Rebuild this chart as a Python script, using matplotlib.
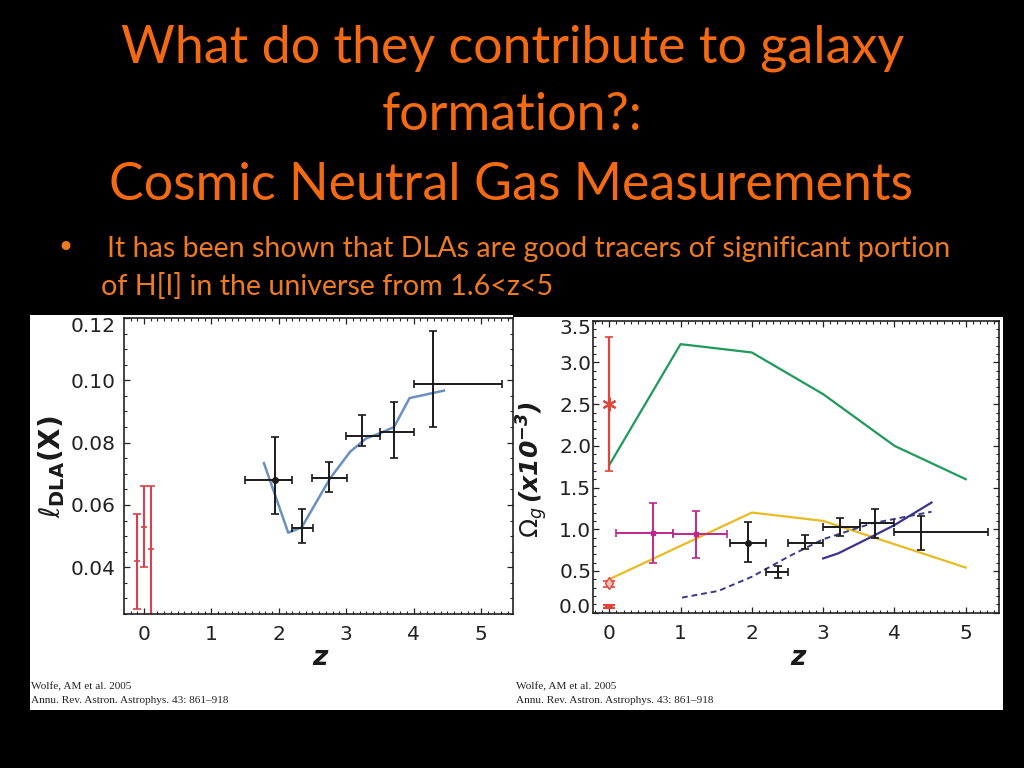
import matplotlib
matplotlib.use('Agg')
import matplotlib.pyplot as plt
import matplotlib.patches as mpatches
from matplotlib.ticker import MultipleLocator
from matplotlib.transforms import ScaledTranslation

# ---------------- data ----------------
title_lines = ["What do they contribute to galaxy", "formation?:", "Cosmic Neutral Gas Measurements"]
bullet_lines = ["It has been shown that DLAs are good tracers of significant portion",
                "of H[I] in the universe from 1.6<z<5"]
citation = ["Wolfe, AM et al. 2005", "Annu. Rev. Astron. Astrophys. 43: 861\u2013918"]

# left panel: l_DLA(X)
z_local = [-0.1, 0.0, 0.1]
l_local = [0.042, 0.053, 0.046]
l_local_lo = [0.0265, 0.040, 0.020]
l_local_hi = [0.057, 0.066, 0.066]

z_dla = [1.94, 2.35, 2.75, 3.24, 3.71, 4.29]
l_dla = [0.0680, 0.0527, 0.0686, 0.0822, 0.0835, 0.0988]
z_dla_lo = [1.50, 2.19, 2.50, 2.99, 3.50, 4.01]
z_dla_hi = [2.20, 2.51, 3.01, 3.50, 4.01, 5.31]
l_dla_lo = [0.0571, 0.0477, 0.0640, 0.0790, 0.0752, 0.0849]
l_dla_hi = [0.0817, 0.0586, 0.0737, 0.0889, 0.0930, 0.1157]

z_model_l = [1.78, 2.14, 2.34, 2.76, 3.06, 3.30, 3.50, 3.71, 3.94, 4.45]
l_model = [0.0734, 0.0511, 0.0528, 0.0685, 0.0771, 0.0814, 0.0830, 0.0850, 0.0943, 0.0967]

# right panel: Omega_g (x1e-3)
z_green = [0, 1, 2, 3, 4, 5]
om_green = [1.77, 3.22, 3.12, 2.62, 2.00, 1.60]
z_yellow = [0, 1, 2, 3, 4, 5]
om_yellow = [0.40, 0.80, 1.20, 1.10, 0.82, 0.54]
z_dash = [1.02, 1.53, 2.00, 2.51, 3.00, 3.68, 4.52]
om_dash = [0.18, 0.26, 0.43, 0.67, 0.88, 1.07, 1.21]
z_navy = [3.00, 3.21, 3.68, 4.00, 4.52]
om_navy = [0.65, 0.71, 0.91, 1.05, 1.32]

z_mag = [0.61, 1.22]
om_mag = [0.96, 0.94]
z_mag_lo = [0.10, 0.90]
z_mag_hi = [0.89, 1.65]
om_mag_lo = [0.60, 0.66]
om_mag_hi = [1.32, 1.22]

z_blk = [1.94, 2.36, 2.74, 3.24, 3.73, 4.37]
om_blk = [0.84, 0.49, 0.84, 1.03, 1.07, 0.97]
z_blk_lo = [1.70, 2.20, 2.50, 3.00, 3.51, 4.00]
z_blk_hi = [2.20, 2.51, 3.00, 3.51, 4.00, 5.31]
om_blk_lo = [0.61, 0.42, 0.76, 0.92, 0.90, 0.75]
om_blk_hi = [1.09, 0.56, 0.93, 1.14, 1.24, 1.16]

om_star = 2.50
om_star_lo, om_star_hi = 1.70, 3.31
om_diam = 0.35
om_diam_lo, om_diam_hi = 0.31, 0.38
om_low = 0.07
om_low_lo, om_low_hi = 0.05, 0.09

# ---------------- figure ----------------
W, H = 1024, 768
fig = plt.figure(figsize=(10.24, 7.68), dpi=100, facecolor='black')


def fx(x):
    return x / W


def fy(y):
    return 1 - y / H


def panel(x0, y0, x1, y1):
    r = mpatches.Rectangle((fx(x0), fy(y1)), (x1 - x0) / W, (y1 - y0) / H,
                           transform=fig.transFigure, facecolor='white',
                           edgecolor='none', zorder=-5)
    fig.add_artist(r)


panel(30, 315, 513, 710)
panel(513, 317, 1003, 710)

renderer = fig.canvas.get_renderer()


def fit_text(x, y, s, target_w, **kw):
    t = fig.text(x, y, s, **kw)
    w = t.get_window_extent(renderer=renderer).width
    t.set_fontsize(t.get_fontsize() * target_w / w)
    return t


TITLE_C = '#f46a12'
BODY_C = '#ee7b22'
tfont = 'Lato'

t1 = fig.text(fx(513), fy(63), title_lines[0], color=TITLE_C, family=tfont, fontsize=34,
              ha='center', va='baseline')
t3 = fig.text(fx(511), fy(200), title_lines[2], color=TITLE_C, family=tfont, fontsize=34,
              ha='center', va='baseline')
w1 = t1.get_window_extent(renderer=renderer).width
w3 = t3.get_window_extent(renderer=renderer).width
scale = 0.5 * (784 / w1 + 807 / w3)
tsize = 34 * scale
t1.set_fontsize(tsize)
t3.set_fontsize(tsize)
fig.text(fx(512), fy(130), title_lines[1], color=TITLE_C, family=tfont, fontsize=tsize,
         ha='center', va='baseline')

# bullet
fig.text(fx(65), fy(249), '\u2022', color=BODY_C, family='DejaVu Sans', fontsize=22,
         ha='center', va='center')
b1 = fit_text(fx(107), fy(257), bullet_lines[0], 844, color=BODY_C, family=tfont,
              fontsize=20, ha='left', va='baseline')
fig.text(fx(101), fy(295), bullet_lines[1], color=BODY_C, family=tfont,
         fontsize=b1.get_fontsize(), ha='left', va='baseline')

# citations
for cx in (31, 516):
    c2 = fit_text(fx(cx), fy(703), citation[1], 199, color='#222222',
                  family='Liberation Serif', fontsize=7, ha='left', va='baseline')
    fig.text(fx(cx), fy(689), citation[0], color='#222222', family='Liberation Serif',
             fontsize=c2.get_fontsize(), ha='left', va='baseline')

TICK_FS = 14.5


def style_axes(ax, ymajor, yminor):
    ax.set_facecolor('none')
    for s in ax.spines.values():
        s.set_linewidth(1.2)
        s.set_color('#222222')
    ax.xaxis.set_major_locator(MultipleLocator(1))
    ax.xaxis.set_minor_locator(MultipleLocator(0.1))
    ax.yaxis.set_major_locator(MultipleLocator(ymajor))
    ax.yaxis.set_minor_locator(MultipleLocator(yminor))
    ax.tick_params(which='both', direction='in', top=True, right=True, colors='#222222')
    ax.tick_params(which='major', length=4.5, width=0.9)
    ax.tick_params(which='minor', length=2.3, width=0.8)


# ---------- left axes ----------
axL = fig.add_axes([fx(124.3), fy(614), (513 - 124.3) / W, (614 - 318) / H])
axL.set_xlim(-0.292, 5.475)
axL.set_ylim(0.025, 0.120)
style_axes(axL, 0.02, 0.005)
axL.set_yticks([0.04, 0.06, 0.08, 0.10, 0.12])
axL.set_yticklabels(['0.04', '0.06', '0.08', '0.10', '0.12'], family='DejaVu Sans',
                    fontsize=TICK_FS, color='#222222')
axL.set_xticks([0, 1, 2, 3, 4, 5])
axL.set_xticklabels(['0', '1', '2', '3', '4', '5'], family='DejaVu Sans',
                    fontsize=TICK_FS, color='#222222')
axL.tick_params(axis='y', pad=6)
axL.tick_params(axis='x', pad=8)

red_l = '#d9404e'
for zi, li, lo, hi in zip(z_local, l_local, l_local_lo, l_local_hi):
    axL.errorbar([zi], [li], yerr=[[li - lo], [hi - li]], fmt='_', color=red_l,
                 ms=5, mew=1.2, elinewidth=1.5, capsize=3, capthick=1.2)

axL.plot(z_model_l, l_model, color='#6b8fc0', lw=1.8, zorder=3)
for i, (zi, li) in enumerate(zip(z_dla, l_dla)):
    axL.errorbar([zi], [li],
                 xerr=[[zi - z_dla_lo[i]], [z_dla_hi[i] - zi]],
                 yerr=[[li - l_dla_lo[i]], [l_dla_hi[i] - li]],
                 fmt='o' if i == 0 else 'none', ms=4, color='#1a1a1a',
                 elinewidth=1.4, capsize=3, capthick=1.2, zorder=4)

# ---------- right axes ----------
axR = fig.add_axes([fx(593.3), fy(612.6), (999 - 593.3) / W, (612.6 - 320.8) / H])
axR.set_xlim(-0.224, 5.466)
axR.set_ylim(0.0, 3.5)
style_axes(axR, 0.5, 0.1)
axR.set_yticks([0.0, 0.5, 1.0, 1.5, 2.0, 2.5, 3.0, 3.5])
axR.set_yticklabels(['0.0', '0.5', '1.0', '1.5', '2.0', '2.5', '3.0', '3.5'],
                    family='DejaVu Sans', fontsize=TICK_FS, color='#222222')
axR.set_xticks([0, 1, 2, 3, 4, 5])
axR.set_xticklabels(['0', '1', '2', '3', '4', '5'], family='DejaVu Sans',
                    fontsize=TICK_FS, color='#222222')
axR.tick_params(axis='y', pad=1.5)
axR.tick_params(axis='x', pad=8)

axR.plot(z_green, om_green, color='#1e9a5c', lw=1.6, zorder=3)
axR.plot(z_yellow, om_yellow, color='#e8bb24', lw=1.6, zorder=3)
axR.plot(z_dash, om_dash, color='#3a3a8a', lw=1.4, ls=(0, (3, 2)), zorder=3)
axR.plot(z_navy, om_navy, color='#3a3490', lw=1.6, zorder=3)

red_r = '#e0453a'
axR.errorbar([0], [om_star], yerr=[[om_star - om_star_lo], [om_star_hi - om_star]],
             fmt='none', color=red_r, elinewidth=1.6,
             capsize=3, capthick=1.2, zorder=5)
axR.plot([0], [om_star], marker=(6, 2, 0), ms=10, mew=1.5, color=red_r, ls='none',
         zorder=6)
axR.errorbar([0], [om_diam], yerr=[[om_diam - om_diam_lo], [om_diam_hi - om_diam]],
             fmt='d', ms=6, mfc='#f6c0b8', mec=red_r, color=red_r, elinewidth=1.3,
             capsize=4, capthick=1.2, zorder=5)
axR.errorbar([0], [om_low], yerr=[[om_low - om_low_lo], [om_low_hi - om_low]],
             fmt='_', ms=6, mew=1.5, color=red_r, elinewidth=1.3,
             capsize=4, capthick=1.2, zorder=5)

mag = '#c0268c'
for i, (zi, oi) in enumerate(zip(z_mag, om_mag)):
    axR.errorbar([zi], [oi], xerr=[[zi - z_mag_lo[i]], [z_mag_hi[i] - zi]],
                 yerr=[[oi - om_mag_lo[i]], [om_mag_hi[i] - oi]],
                 fmt='s', ms=3.5, color=mag, elinewidth=1.4, capsize=3, capthick=1.2,
                 zorder=4)

for i, (zi, oi) in enumerate(zip(z_blk, om_blk)):
    axR.errorbar([zi], [oi], xerr=[[zi - z_blk_lo[i]], [z_blk_hi[i] - zi]],
                 yerr=[[oi - om_blk_lo[i]], [om_blk_hi[i] - oi]],
                 fmt='o' if i == 0 else 'none', ms=4, color='#1a1a1a',
                 elinewidth=1.4, capsize=3, capthick=1.2, zorder=4)


# shift end labels inward as in the reference
def shift_label(ax, idx, dy_px):
    tick = ax.yaxis.get_major_ticks()[idx]
    lab = tick.label1
    lab.set_transform(lab.get_transform() + ScaledTranslation(0, dy_px / 100, fig.dpi_scale_trans))


shift_label(axL, 4, -7)
shift_label(axR, 7, -6)
shift_label(axR, 0, 7)

# axis labels
fig.text(fx(320), fy(658), 'z', family='DejaVu Sans', fontsize=19, fontweight='bold',
         fontstyle='italic', color='#1a1a1a', ha='center', va='center')
fig.text(fx(798), fy(658), 'z', family='DejaVu Sans', fontsize=19, fontweight='bold',
         fontstyle='italic', color='#1a1a1a', ha='center', va='center')
fig.text(fx(52), fy(467), r'$\ell_{\mathbf{DLA}}\mathbf{(X)}$', fontsize=20,
         rotation=90, color='#1a1a1a', ha='center', va='center')
fig.text(fx(532), fy(470), r'$\Omega_g\,\mathbfit{(x10^{-3})}$', fontsize=18,
         rotation=90, color='#1a1a1a', ha='center', va='center')

fig.savefig('out.png', dpi=100, facecolor='black')
